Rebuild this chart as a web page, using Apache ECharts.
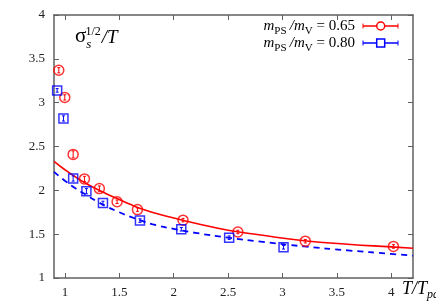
<!DOCTYPE html>
<html><head><meta charset="utf-8">
<script src="https://cdn.jsdelivr.net/npm/echarts@6/dist/echarts.min.js"></script>
<style>html,body{margin:0;padding:0;background:#fff}#c{width:436px;height:305px}</style>
</head><body><div id="c"></div>
<script>
// Data
const redX   = [0.944, 0.999, 1.076, 1.18, 1.317, 1.48, 1.667, 2.086, 2.59, 3.21, 4.02];
const redY   = [3.37, 3.06, 2.41, 2.13, 2.02, 1.87, 1.78, 1.66, 1.525, 1.42, 1.36];
const redErr = [0.03, 0.03, 0.04, 0.03, 0.03, 0.02, 0.02, 0.02, 0.02, 0.02, 0.02];
const blueX   = [0.929, 0.987, 1.076, 1.198, 1.35, 1.69, 2.07, 2.51, 3.01];
const blueY   = [3.14, 2.82, 2.135, 1.99, 1.856, 1.655, 1.556, 1.46, 1.35];
const blueErr = [0.02, 0.03, 0.03, 0.03, 0.02, 0.02, 0.02, 0.02, 0.02];
const fitRedX  = [0.9, 1.0, 1.1, 1.2, 1.3, 1.4, 1.5, 1.6, 1.7, 1.8, 2.0, 2.2, 2.5, 2.8, 3.2, 3.6, 4.0, 4.2];
const fitRedY  = [2.33, 2.235, 2.15, 2.075, 2.01, 1.95, 1.895, 1.84, 1.79, 1.75, 1.685, 1.625, 1.545, 1.49, 1.425, 1.385, 1.355, 1.34];
const fitBlueX = [0.9, 1.0, 1.1, 1.2, 1.3, 1.4, 1.5, 1.6, 1.7, 1.8, 2.0, 2.2, 2.5, 2.8, 3.2, 3.6, 4.0, 4.2];
const fitBlueY = [2.21, 2.11, 2.02, 1.945, 1.87, 1.805, 1.75, 1.70, 1.655, 1.615, 1.56, 1.515, 1.46, 1.415, 1.36, 1.315, 1.275, 1.255];
const xTicks = [1, 1.5, 2, 2.5, 3, 3.5, 4];
const yTicks = [1, 1.5, 2, 2.5, 3, 3.5, 4];

const zip = (a, b) => a.map((v, i) => [v, b[i]]);
const errData = (xs, ys, es) => xs.map((v, i) => [v, ys[i] - es[i], ys[i] + es[i]]);

const RED = '#ff0000', BLUE = '#0000ff', AX = '#606060';
const serif = 'Liberation Serif, Times New Roman, serif';

function errRender(color) {
  return function (params, api) {
    const lo = api.coord([api.value(0), api.value(1)]);
    const hi = api.coord([api.value(0), api.value(2)]);
    const c = 1.5;
    return {
      type: 'group',
      children: [
        {type: 'line', shape: {x1: lo[0], y1: lo[1], x2: hi[0], y2: hi[1]}, style: {stroke: color, lineWidth: 1}},
        {type: 'line', shape: {x1: lo[0] - c, y1: lo[1], x2: lo[0] + c, y2: lo[1]}, style: {stroke: color, lineWidth: 1}},
        {type: 'line', shape: {x1: hi[0] - c, y1: hi[1], x2: hi[0] + c, y2: hi[1]}, style: {stroke: color, lineWidth: 1}}
      ]
    };
  };
}

const axisCommon = {
  type: 'value',
  axisLine: {show: true, lineStyle: {color: AX, width: 1.5}},
  axisTick: {show: true, inside: true, length: 5, lineStyle: {color: AX, width: 1}},
  splitLine: {show: false}
};

const legendRich = {
  m: {fontFamily: serif, fontStyle: 'italic', fontSize: 15, fill: '#000', verticalAlign: 'bottom'},
  b: {fontFamily: serif, fontSize: 11, fill: '#000', verticalAlign: 'bottom', padding: [0, 0, -3, 0]},
  n: {fontFamily: serif, fontSize: 15, fill: '#000', verticalAlign: 'bottom'}
};

const chart = echarts.init(document.getElementById('c'), null, {renderer: 'canvas'});
chart.setOption({
  animation: false,
  backgroundColor: '#fff',
  grid: {left: 54, top: 15, right: 23, bottom: 27, containLabel: false},
  xAxis: [
    Object.assign({}, axisCommon, {
      min: 0.9, max: 4.2, position: 'bottom',
      axisTick: {show: true, inside: true, length: 5, lineStyle: {color: AX}, customValues: xTicks},
      axisLabel: {customValues: xTicks, color: '#222', fontFamily: serif, fontSize: 13, margin: 8}
    }),
    Object.assign({}, axisCommon, {
      min: 0.9, max: 4.2, position: 'top',
      axisTick: {show: true, inside: true, length: 5, lineStyle: {color: AX}, customValues: xTicks},
      axisLabel: {show: false}
    })
  ],
  yAxis: [
    Object.assign({}, axisCommon, {
      min: 1, max: 4, interval: 0.5, position: 'left',
      axisLabel: {color: '#222', fontFamily: serif, fontSize: 13, margin: 9,
        formatter: v => String(v)}
    }),
    Object.assign({}, axisCommon, {
      min: 1, max: 4, interval: 0.5, position: 'right',
      axisLabel: {show: false}
    })
  ],
  series: [
    {type: 'line', data: zip(fitRedX, fitRedY), smooth: true, showSymbol: false, symbol: 'none',
      lineStyle: {color: RED, width: 1.6}, z: 2},
    {type: 'line', data: zip(fitBlueX, fitBlueY), smooth: true, showSymbol: false, symbol: 'none',
      lineStyle: {color: BLUE, width: 1.8, type: [6, 5]}, z: 2},
    {type: 'custom', renderItem: errRender(RED), data: errData(redX, redY, redErr), z: 3,
      encode: {x: 0, y: [1, 2]}},
    {type: 'custom', renderItem: errRender(BLUE), data: errData(blueX, blueY, blueErr), z: 3,
      encode: {x: 0, y: [1, 2]}},
    {type: 'scatter', data: zip(redX, redY), symbol: 'circle', symbolSize: 10,
      itemStyle: {color: 'rgba(0,0,0,0)', borderColor: RED, borderWidth: 1.5}, z: 4},
    {type: 'scatter', data: zip(blueX, blueY), symbol: 'rect', symbolSize: 9,
      itemStyle: {color: 'rgba(0,0,0,0)', borderColor: BLUE, borderWidth: 1.5}, z: 4}
  ],
  graphic: [
    // panel label
    {type: 'text', left: 75, top: 26, z: 10, style: {
      text: '{a|σ}{s|s}{p|1/2}{t|/T}',
      rich: {
        a: {fontFamily: serif, fontSize: 21, fill: '#000', verticalAlign: 'bottom'},
        s: {fontFamily: serif, fontStyle: 'italic', fontSize: 13, fill: '#000', verticalAlign: 'bottom', padding: [0, 0, -4, 0]},
        p: {fontFamily: serif, fontSize: 12, fill: '#000', verticalAlign: 'top', padding: [0, 1, 0, -6]},
        t: {fontFamily: serif, fontStyle: 'italic', fontSize: 19, fill: '#000', verticalAlign: 'bottom'}
      }
    }},
    // legend entries
    {type: 'text', right: 81, top: 19, z: 10, style: {text: '{m|m}{b|PS} {m|/m}{b|V}{n| = 0.65}', rich: legendRich}},
    {type: 'text', right: 81, top: 36, z: 10, style: {text: '{m|m}{b|PS} {m|/m}{b|V}{n| = 0.80}', rich: legendRich}},
    {type: 'line', z: 10, shape: {x1: 363, y1: 26, x2: 398, y2: 26}, style: {stroke: RED, lineWidth: 1.5}},
    {type: 'line', z: 10, shape: {x1: 363, y1: 23.5, x2: 363, y2: 28.5}, style: {stroke: RED, lineWidth: 1}},
    {type: 'line', z: 10, shape: {x1: 398, y1: 23.5, x2: 398, y2: 28.5}, style: {stroke: RED, lineWidth: 1}},
    {type: 'circle', z: 11, shape: {cx: 380.7, cy: 26, r: 4}, style: {fill: '#fff', stroke: RED, lineWidth: 1.5}},
    {type: 'line', z: 10, shape: {x1: 363, y1: 43, x2: 398, y2: 43}, style: {stroke: BLUE, lineWidth: 1.5}},
    {type: 'line', z: 10, shape: {x1: 363, y1: 40.5, x2: 363, y2: 45.5}, style: {stroke: BLUE, lineWidth: 1}},
    {type: 'line', z: 10, shape: {x1: 398, y1: 40.5, x2: 398, y2: 45.5}, style: {stroke: BLUE, lineWidth: 1}},
    {type: 'rect', z: 11, shape: {x: 376.7, y: 39, width: 8, height: 8}, style: {fill: '#fff', stroke: BLUE, lineWidth: 1.5}},
    // x-axis name
    {type: 'text', left: 402, top: 280, z: 10, style: {
      text: '{t|T/T}{b|pc}',
      rich: {
        t: {fontFamily: serif, fontStyle: 'italic', fontSize: 18, fill: '#000', verticalAlign: 'bottom'},
        b: {fontFamily: serif, fontStyle: 'italic', fontSize: 12, fill: '#000', verticalAlign: 'bottom', padding: [0, 0, -3, 0]}
      }
    }}
  ]
});
</script></body></html>
